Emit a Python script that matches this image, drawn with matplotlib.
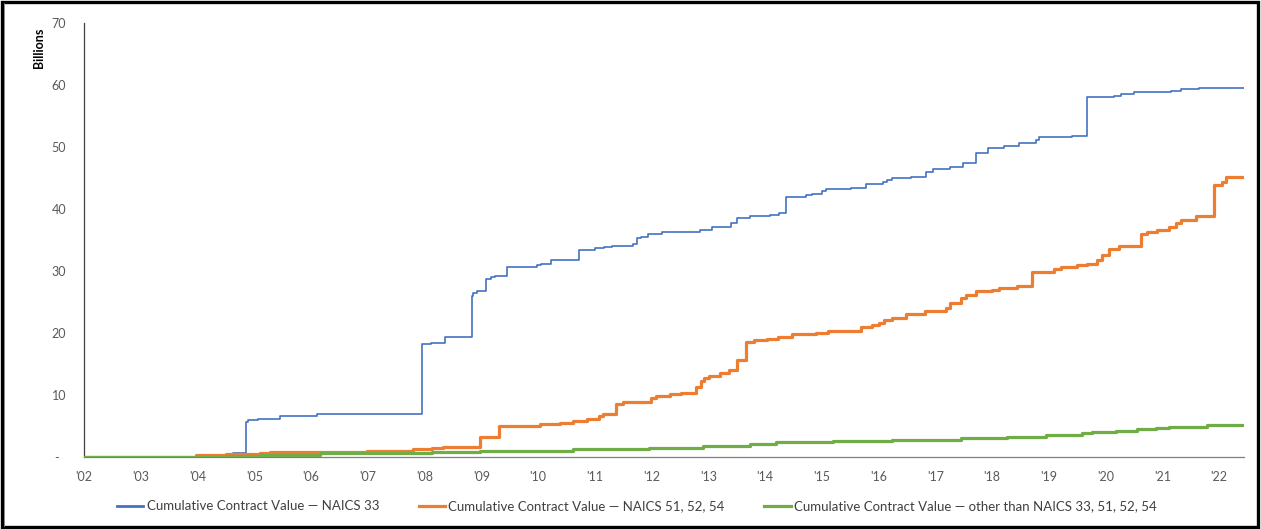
import matplotlib
matplotlib.use("Agg")
import matplotlib.pyplot as plt
from matplotlib.patches import Rectangle
from matplotlib.lines import Line2D

# Cumulative contract value (billions) as step series; x in decimal years
naics33_years = [2002.00, 2004.62, 2004.85, 2004.89, 2005.07, 2005.45, 2006.10, 2007.95, 2008.12,
                 2008.36, 2008.83, 2008.85, 2008.92, 2009.08, 2009.17, 2009.24, 2009.46, 2009.98,
                 2010.06, 2010.22, 2010.73, 2011.00, 2011.17, 2011.31, 2011.67, 2011.75, 2011.82,
                 2011.93, 2012.19, 2012.85, 2013.07, 2013.40, 2013.51, 2013.73, 2014.08, 2014.25,
                 2014.36, 2014.72, 2014.83, 2015.01, 2015.07, 2015.52, 2015.78, 2016.07, 2016.14,
                 2016.24, 2016.57, 2016.84, 2016.95, 2017.25, 2017.48, 2017.72, 2017.92, 2018.07,
                 2018.21, 2018.48, 2018.77, 2018.83, 2019.41, 2019.68, 2020.15, 2020.27, 2020.50,
                 2021.15, 2021.32, 2021.65, 2022.44]
naics33_values = [0.0, 0.7, 5.7, 6.0, 6.2, 6.7, 7.0, 18.2, 18.4,
                  19.4, 25.9, 26.4, 26.7, 28.7, 29.0, 29.2, 30.6, 30.9,
                  31.1, 31.7, 33.4, 33.7, 33.8, 34.1, 34.4, 35.3, 35.5,
                  36.0, 36.3, 36.6, 37.1, 37.7, 38.5, 38.8, 39.0, 39.4,
                  42.0, 42.3, 42.5, 42.9, 43.3, 43.4, 44.0, 44.3, 44.7,
                  45.0, 45.1, 46.0, 46.5, 46.7, 47.4, 49.0, 49.8, 49.9,
                  50.2, 50.6, 51.1, 51.6, 51.8, 58.0, 58.2, 58.6, 58.9,
                  59.1, 59.4, 59.5, 59.5]

naics5x_years = [2002.00, 2003.97, 2004.51, 2005.10, 2005.27, 2006.98, 2007.79, 2008.14, 2008.32,
                 2008.97, 2009.32, 2010.03, 2010.38, 2010.61, 2010.87, 2011.08, 2011.14, 2011.38,
                 2011.49, 2011.99, 2012.08, 2012.32, 2012.52, 2012.79, 2012.87, 2012.93, 2013.02,
                 2013.20, 2013.37, 2013.51, 2013.67, 2013.81, 2014.04, 2014.22, 2014.48, 2014.90,
                 2015.10, 2015.69, 2015.89, 2016.01, 2016.10, 2016.24, 2016.48, 2016.81, 2017.19,
                 2017.25, 2017.45, 2017.54, 2017.72, 2018.00, 2018.13, 2018.44, 2018.71, 2019.09,
                 2019.21, 2019.50, 2019.68, 2019.85, 2019.94, 2020.06, 2020.24, 2020.62, 2020.73,
                 2020.91, 2021.12, 2021.24, 2021.32, 2021.59, 2021.91, 2022.05, 2022.12, 2022.44]
naics5x_values = [0.0, 0.3, 0.5, 0.7, 0.75, 1.0, 1.3, 1.4, 1.56,
                  3.2, 5.0, 5.3, 5.5, 5.8, 6.2, 6.6, 7.0, 8.5,
                  8.8, 9.5, 9.8, 10.1, 10.4, 11.3, 12.3, 12.7, 13.1,
                  13.5, 14.0, 15.6, 18.6, 18.9, 19.1, 19.4, 19.8, 20.0,
                  20.3, 20.9, 21.3, 21.7, 22.1, 22.5, 23.1, 23.6, 24.1,
                  24.8, 25.6, 26.2, 26.7, 27.0, 27.3, 27.6, 29.9, 30.3,
                  30.6, 30.9, 31.2, 31.8, 32.6, 33.5, 34.0, 35.9, 36.3,
                  36.6, 37.1, 37.7, 38.2, 38.8, 43.9, 44.4, 45.2, 45.2]

other_years = [2002.00, 2004.51, 2005.10, 2006.15, 2007.92, 2008.14, 2008.97, 2010.61, 2011.96,
               2012.90, 2013.73, 2014.20, 2015.19, 2016.24, 2017.45, 2018.27, 2018.95, 2019.59,
               2019.76, 2020.18, 2020.56, 2020.89, 2021.12, 2021.79, 2022.44]
other_values = [0.0, 0.2, 0.35, 0.6, 0.7, 0.86, 1.0, 1.3, 1.5,
                1.8, 2.1, 2.4, 2.6, 2.7, 3.0, 3.3, 3.5, 3.8,
                4.0, 4.2, 4.45, 4.7, 4.9, 5.2, 5.2]

year_ticks = list(range(2002, 2023))
year_labels = ["'%02d" % (y % 100) for y in year_ticks]
value_ticks = [0, 10, 20, 30, 40, 50, 60, 70]
value_labels = ["-  "] + [str(v) for v in value_ticks[1:]]

series_labels = ["Cumulative Contract Value \u2014 NAICS 33",
                 "Cumulative Contract Value \u2014 NAICS 51, 52, 54",
                 "Cumulative Contract Value \u2014 other than NAICS 33, 51, 52, 54"]
colors = ["#4472C4", "#ED7D31", "#70AD47"]

plt.rcParams['font.family'] = ['Lato', 'DejaVu Sans']

fig = plt.figure(figsize=(12.61, 5.29), dpi=100)
ax = fig.add_axes([0.0666, 0.136, 0.92, 0.8205])

ax.step(naics33_years, naics33_values, where='post', color=colors[0], lw=1.2, zorder=3)
ax.step(naics5x_years, naics5x_values, where='post', color=colors[1], lw=2.3, zorder=4)
ax.step(other_years, other_values, where='post', color=colors[2], lw=2.3, zorder=5)

ax.set_xlim(2002, 2022.44)
ax.set_ylim(0, 70)
ax.set_xticks(year_ticks)
ax.set_xticklabels(year_labels)
ax.set_yticks(value_ticks)
ax.set_yticklabels(value_labels)
ax.tick_params(axis='both', length=0, labelsize=9, colors='#595959')
ax.tick_params(axis='y', pad=12.7)
ax.tick_params(axis='x', pad=10)

for side in ['top', 'right']:
    ax.spines[side].set_visible(False)
ax.spines['left'].set_color('#404040')
ax.spines['left'].set_linewidth(0.9)
ax.spines['bottom'].set_color('#7f7f7f')
ax.spines['bottom'].set_linewidth(0.9)

fig.text(0.031, 0.91, 'Billions', rotation=90, fontsize=9, fontweight='bold',
         ha='center', va='center', color='black')

handles = [Line2D([], [], color=c, lw=2.3) for c in colors]
handles[0].set_linewidth(2.0)
fig.legend(handles, series_labels, loc='center', bbox_to_anchor=(0.505, 0.043), ncol=3,
           frameon=False, fontsize=9.5, handlelength=2.0, handletextpad=0.25,
           columnspacing=3.0, labelcolor='#404040')

# outer frame
fig.patches.append(Rectangle((0.0012, 0.003), 0.9965, 0.994, transform=fig.transFigure,
                             fill=False, edgecolor='black', lw=2.4))
fig.add_artist(Line2D([0.0033, 0.0033], [0.006, 0.994], transform=fig.transFigure,
                      color='#808080', lw=0.6))

fig.savefig('out.png', dpi=100)
